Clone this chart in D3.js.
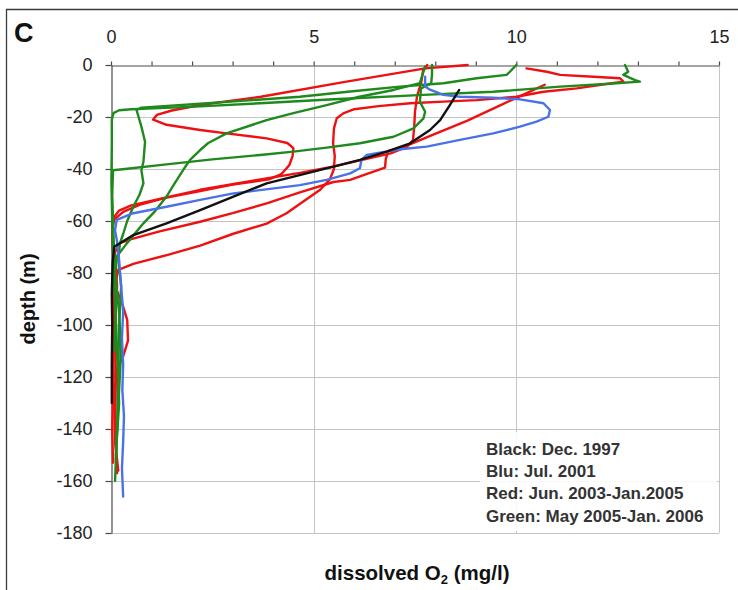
<!DOCTYPE html>
<html>
<head>
<meta charset="utf-8">
<script src="https://cdn.jsdelivr.net/npm/d3@7"></script>
<style>
  html, body { margin: 0; padding: 0; background: #fff; }
  svg { display: block; font-family: "Liberation Sans", Arial, sans-serif; }
</style>
</head>
<body>
<svg id="chart" width="738" height="590"></svg>
<script>
// Dissolved oxygen profiles: each point is [O2 (mg/l), depth (m)]
const black1997 = [[8.59,-9.6],[8.36,-15.4],[8.12,-21.2],[7.87,-25],[7.38,-30.1],[6.8,-33.3],[6.14,-36.5],[5.49,-39.1],[4.8,-41.8],[3.84,-45.5],[3.02,-50.6],[2.2,-55.8],[1.37,-60.9],[0.55,-65.4],[0.08,-69.9],[0.04,-76],[0.02,-88],[0.03,-100],[0.02,-115],[0.02,-130]];

const blue2001 = [[7.75,-4.5],[7.75,-8.3],[7.87,-9.5],[8.2,-11.5],[8.61,-12.2],[9.43,-12.6],[10.09,-13.2],[10.67,-14.7],[10.83,-17.3],[10.79,-19.9],[10.5,-21.8],[10.09,-23.7],[9.43,-26.3],[8.61,-28.8],[7.79,-31.4],[7.13,-32.4],[6.31,-34.6],[6.18,-36.5],[6.14,-39.7],[5.9,-41.7],[5.32,-44.2],[4.66,-46.2],[3.02,-49.4],[2.2,-51.9],[1.37,-54.5],[0.55,-57],[0.14,-59.6],[0.1,-63.5],[0.15,-68],[0.2,-75],[0.25,-85],[0.3,-95],[0.27,-105],[0.3,-115],[0.28,-125],[0.32,-135],[0.3,-145],[0.27,-155],[0.3,-166]];

const redJun2003 = [[8.8,0],[7.75,-1.3],[5.7,-6.7],[3.7,-12.2],[2.2,-15.4],[1.5,-17.5],[1.13,-19.2],[1.04,-21],[1.37,-23],[2.2,-25],[2.85,-26.3],[3.84,-28.2],[4.35,-30],[4.5,-32],[4.48,-35],[4.4,-38.5],[4.2,-42],[3.9,-44],[3.0,-46],[2.2,-48.5],[1.37,-51],[0.7,-53.8],[0.3,-56.5],[0.08,-59.5],[0.03,-63],[0.06,-75],[0.1,-85],[0.28,-92],[0.4,-98],[0.42,-106],[0.3,-112],[0.12,-118],[0.08,-130],[0.1,-145],[0.18,-156]];

const redB = [[10.25,-1.3],[10.75,-2.6],[11.08,-3.8],[11.9,-4.5],[12.56,-5.1],[12.64,-6.4],[12.0,-7.8],[11.49,-9],[10.67,-10.3],[10.0,-12.2],[9.02,-13.5],[8.2,-14.1],[7.38,-14.7],[6.6,-15.8],[6.0,-17],[5.73,-18.6],[5.57,-20.5],[5.5,-24.4],[5.48,-30],[5.52,-35],[5.5,-40],[5.4,-44],[5.16,-48],[4.7,-53],[4.33,-57],[3.84,-61],[3.0,-65],[2.2,-69.5],[1.4,-73],[0.55,-76.5],[0.18,-78.8],[0.1,-84],[0.12,-95],[0.06,-110],[0.05,-125],[0.03,-140],[0.05,-153]];

const redC = [[10.7,-7.6],[10.2,-11.2],[9.6,-15.5],[8.78,-21.5],[7.95,-26.8],[7.3,-31],[6.85,-33],[6.78,-36],[6.76,-39.5],[6.3,-42],[5.9,-44.2],[5.49,-45],[4.66,-49],[3.84,-53.2],[3.0,-57],[2.2,-60.3],[1.2,-64],[0.5,-67],[0.22,-68.5],[0.1,-72],[0.15,-85],[0.1,-100],[0.12,-120],[0.1,-140],[0.15,-157]];

const redD = [[7.8,0],[7.7,-2],[7.65,-7],[7.55,-12],[7.5,-18],[7.48,-24],[7.45,-29],[7.3,-31.5],[6.9,-34],[6.2,-36.5],[5.5,-39],[4.66,-41.5],[3.5,-44.5],[2.2,-48],[1.2,-51.5],[0.5,-54],[0.2,-56],[0.05,-59],[0.03,-65],[0.08,-80],[0.05,-100],[0.06,-120]];

const greenA = [[12.68,0],[12.76,-2.6],[12.64,-3.8],[12.93,-5.8],[13.05,-6.4],[12.3,-7.2],[11.08,-8.3],[9.43,-10.3],[7.71,-11.5],[5.5,-13.2],[3.68,-14.7],[2.2,-15.9],[1.2,-16.6],[0.5,-17.0],[0.2,-17.4],[0.06,-18.5],[0.02,-21],[0.02,-30],[0.01,-45],[0.03,-60],[0.05,-75],[0.1,-90],[0.15,-110],[0.2,-130],[0.12,-150]];

const greenB = [[10.0,0],[9.84,-2.6],[9.76,-3.8],[9.02,-5.1],[8.2,-7],[7.13,-8.3],[5.9,-10.2],[4.66,-12.2],[3.3,-13.7],[2.2,-14.9],[1.3,-15.8],[0.75,-16.4],[0.63,-17.3],[0.75,-23.7],[0.84,-29.5],[0.8,-37.2],[0.75,-40.5],[0.8,-45.5],[0.7,-50],[0.55,-54.5],[0.4,-60],[0.3,-65],[0.22,-68.6],[0.18,-75],[0.25,-85],[0.2,-100],[0.18,-120],[0.15,-140],[0.12,-152]];

const greenC = [[7.75,-0.6],[7.7,-3],[7.62,-7],[6.97,-9.6],[6.1,-12.3],[5.32,-15.4],[4.5,-18.5],[3.84,-21.2],[2.85,-26.3],[2.4,-30],[2.2,-32.7],[1.95,-36.5],[1.78,-40.4],[1.55,-46],[1.37,-50.6],[1.1,-56],[0.8,-60.9],[0.39,-68.6],[0.14,-73.7],[0.1,-80],[0.12,-95],[0.08,-110]];

const greenD = [[7.92,0],[7.92,-3.5],[7.9,-7],[7.65,-9],[7.62,-14.1],[7.75,-18],[7.71,-20.5],[7.46,-24.4],[6.97,-27.6],[6.14,-30.1],[5.32,-31.8],[4.5,-33.3],[3.68,-34.6],[2.5,-36.3],[1.2,-38.5],[0.4,-39.9],[0.05,-40.5],[0.03,-50],[0.06,-65],[0.1,-80],[0.2,-95],[0.25,-110],[0.2,-125],[0.15,-140],[0.1,-160]];

const xTickLabels = [0, 5, 10, 15];
const yTicks = [0, -20, -40, -60, -80, -100, -120, -140, -160, -180];
const legendLines = ["Black: Dec. 1997", "Blu: Jul. 2001", "Red: Jun. 2003-Jan.2005", "Green: May 2005-Jan. 2006"];

const colors = { black: "#111111", blue: "#4a72e8", red: "#ee1111", green: "#1e8a1e" };

const svg = d3.select("#chart");
const plot = { left: 111, right: 719, top: 65, bottom: 533 };

const x = d3.scaleLinear().domain([0, 15]).range([plot.left, plot.right]);
const y = d3.scaleLinear().domain([0, -180]).range([plot.top, plot.bottom]);

// outer frame (top and left edges)
svg.append("path")
  .attr("d", "M6.5,590 V9.5 H738")
  .attr("fill", "none").attr("stroke", "#3a3a3a").attr("stroke-width", 1.3);

// panel letter
svg.append("text").attr("x", 14).attr("y", 42)
  .attr("font-size", 27).attr("font-weight", "bold").attr("fill", "#111").text("C");

// gridlines
const grid = svg.append("g").attr("stroke", "#c4c4c4").attr("stroke-width", 1);
grid.selectAll("line.h").data(yTicks.filter(d => d < 0)).join("line")
  .attr("x1", plot.left).attr("x2", plot.right)
  .attr("y1", d => Math.round(y(d)) + 0.5).attr("y2", d => Math.round(y(d)) + 0.5);
grid.selectAll("line.v").data(xTickLabels.filter(d => d > 0)).join("line")
  .attr("y1", plot.top).attr("y2", plot.bottom)
  .attr("x1", d => Math.round(x(d)) + 0.5).attr("x2", d => Math.round(x(d)) + 0.5);

// axes
const xAxis = d3.axisTop(x)
  .tickValues(d3.range(0, 16))
  .tickFormat(d => xTickLabels.includes(d) ? String(d) : "")
  .tickSize(4).tickSizeOuter(0).tickPadding(19);
const gx = svg.append("g").attr("transform", `translate(0,${plot.top + 0.5})`).call(xAxis);

const yAxis = d3.axisLeft(y)
  .tickValues(yTicks)
  .tickFormat(d => String(d))
  .tickSize(6).tickSizeOuter(0).tickPadding(13);
const gy = svg.append("g").attr("transform", `translate(${plot.left + 0.5},0)`).call(yAxis);

[gx, gy].forEach(g => {
  g.select(".domain").attr("stroke", "#4a4a4a").attr("stroke-width", 1.2);
  g.selectAll(".tick line").attr("stroke", "#4a4a4a").attr("stroke-width", 1.2);
  g.selectAll(".tick text").attr("font-size", 18).attr("fill", "#222")
    .attr("font-family", "'Liberation Sans', Arial, sans-serif");
});

// legend box
svg.append("rect").attr("x", 480).attr("y", 432).attr("width", 237).attr("height", 99)
  .attr("fill", "#fff").attr("fill-opacity", 0.88);
svg.append("g").selectAll("text").data(legendLines).join("text")
  .attr("x", 486).attr("y", (d, i) => 455 + i * 22.2)
  .attr("font-size", 17).attr("font-weight", "bold").attr("fill", "#333")
  .text(d => d);

// profiles
const line = d3.line().x(d => x(d[0])).y(d => y(d[1]));
const series = [
  { data: redJun2003, color: colors.red },
  { data: redB, color: colors.red },
  { data: redC, color: colors.red },
  { data: redD, color: colors.red },
  { data: greenA, color: colors.green },
  { data: greenB, color: colors.green },
  { data: greenC, color: colors.green },
  { data: greenD, color: colors.green },
  { data: blue2001, color: colors.blue },
  { data: black1997, color: colors.black }
];
svg.append("g").selectAll("path").data(series).join("path")
  .attr("d", d => line(d.data))
  .attr("fill", "none")
  .attr("stroke", d => d.color)
  .attr("stroke-width", 2.4)
  .attr("stroke-linejoin", "round")
  .attr("stroke-linecap", "round");

// axis titles
svg.append("text")
  .attr("transform", `translate(35,${(plot.top + plot.bottom) / 2}) rotate(-90)`)
  .attr("text-anchor", "middle")
  .attr("font-size", 20).attr("font-weight", "bold").attr("fill", "#111")
  .text("depth (m)");

const xt = svg.append("text")
  .attr("x", (plot.left + plot.right) / 2 + 2).attr("y", 580)
  .attr("text-anchor", "middle")
  .attr("font-size", 20.5).attr("font-weight", "bold").attr("fill", "#111");
xt.append("tspan").text("dissolved O");
xt.append("tspan").attr("font-size", 13).attr("dy", 4).text("2");
xt.append("tspan").attr("dy", -4).text(" (mg/l)");
</script>
</body>
</html>
